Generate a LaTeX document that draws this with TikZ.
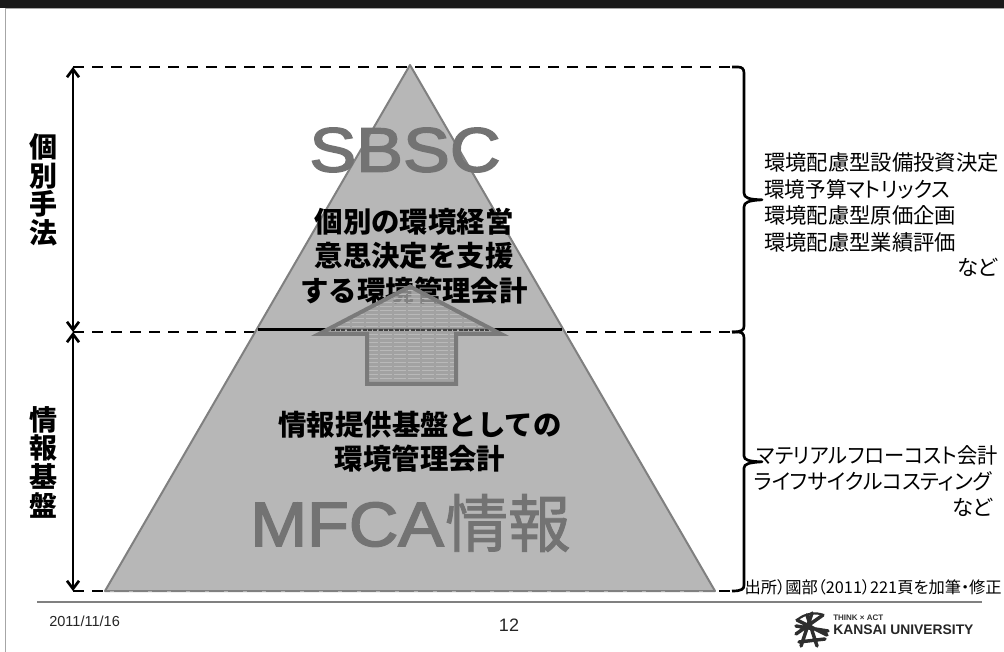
\documentclass[tikz,border=0pt]{standalone}
\usepackage{fontspec}
\setmainfont{Liberation Sans}
\newfontfamily\jp{Noto Sans CJK JP}
\newfontfamily\jpp[RawFeature=+palt]{Noto Sans CJK JP}
\newfontfamily\emb[FakeBold=2.4]{Liberation Sans}
\newfontfamily\jpemb[FakeBold=1.4]{Noto Sans CJK JP}
\usetikzlibrary{arrows.meta}
\definecolor{tri}{HTML}{B7B7B7}
\definecolor{triedge}{HTML}{808080}
\definecolor{big}{HTML}{737373}
\definecolor{arrowedge}{HTML}{7A7A7A}
\definecolor{hatch}{HTML}{9E9E9E}
\newcommand{\fs}[1]{\fontsize{#1}{#1}\selectfont}
\tikzset{
  x=0.75pt,y=-0.75pt,
  dashline/.style={line width=2.1pt,dash pattern=on 8pt off 6.25pt},
  dim/.style={line width=2pt,{Straight Barb[length=6pt,width=9pt,line width=2pt]}-{Straight Barb[length=6pt,width=9pt,line width=2pt]}},
  bracepath/.style={line width=2pt,line join=round},
  center label/.style={inner sep=0,font=\jp\bfseries\fs{21.3},align=center,text=black},
  side label/.style={inner sep=0,font=\jp\bfseries\fs{21},align=center,text=black},
  note/.style={inner sep=0,font=\jpp\fs{16},anchor=west},
  noter/.style={inner sep=0,font=\jpp\fs{16},anchor=east},
}
\begin{document}
\begin{tikzpicture}
\useasboundingbox (0,0) rectangle (1004,652);
\fill[white] (0,0) rectangle (1004,652);
\fill[black!90] (0,0) rectangle (1004,8);
\draw[gray!70,line width=0.8pt] (5.7,652) -- (5.7,8.5) -- (1004,8.5);
% guide coordinates
\coordinate (dtl) at (73,67);
\coordinate (dtr) at (732,67);
\coordinate (dml) at (73,332);
\coordinate (dmr) at (732,332);
\coordinate (dbl) at (73,591);
\coordinate (dbr) at (732,591);
\draw[dashline] (dtl) -- (dtr);
\draw[dashline] (dml) -- (dmr);
\draw[dashline] (dbl) -- (dbr);
% pyramid
\path[fill=tri,draw=triedge,line width=1.5pt,line join=round] (410,65) -- (715,591) -- (105,591) -- cycle;
\draw[black!30,line width=0.8pt,dash pattern=on 3pt off 11.25pt] (110,591.5) -- (712,591.5);
\coordinate (sl) at (258,329.5);
\coordinate (sr) at (562,329.5);
\draw[black,line width=1.6pt] (sl) -- (sr);
\draw[dim] (dtl) -- (dml);
\draw[dim] (dml) -- (dbl);
% braces
\draw[bracepath] (dtr) -- (738,67) .. controls (742,67) and (744,69) .. (744,73) -- (744,193)
   .. controls (744,198) and (749,199.5) .. (762,199.8)
   .. controls (749,200.5) and (744,202) .. (744,207) -- (744,326)
   .. controls (744,330) and (742,332) .. (dmr);
\draw[bracepath] (dmr) -- (738,332) .. controls (742,332) and (744,334) .. (744,338) -- (744,456)
   .. controls (744,460) and (749,461.5) .. (762,461.8)
   .. controls (749,462.5) and (744,464) .. (744,468) -- (744,585)
   .. controls (744,589) and (742,591) .. (dbr);
% big text
\node[inner sep=0,text=big,font=\emb\fs{47},xscale=1.12] (sbsc) at (405,150) {SBSC};
\node[inner sep=0,text=big,font=\emb\fs{47},xscale=1.09,anchor=west] (mfca) at (250,524.5) {MFCA};
\node[inner sep=0,text=big,font=\jpemb\fs{47},anchor=west] (joho) at (445,523) {情報};
% labels
\node[center label] (t1) at (414,256) {個別の環境経営\\[4.6pt]意思決定を支援\\[4.6pt]する環境管理会計};
\node[center label] (t2) at (420,442) {情報提供基盤としての\\[4.2pt]環境管理会計};
% arrow
\path[fill=hatch,fill opacity=0.82]
  (410,286.5) -- (501,334) -- (456,334) -- (456,384) -- (367,384) -- (367,334) -- (319,334) -- cycle;
\begin{scope}
\clip (410,286.5) -- (501,334) -- (456,334) -- (456,384) -- (367,384) -- (367,334) -- (319,334) -- cycle;
\foreach \y in {290,294,...,386}{\draw[white!45!gray,line width=0.7pt,dash pattern=on 9pt off 1.5pt] (310,\y) -- (510,\y);}
\draw[black!75,line width=1.2pt,dash pattern=on 3pt off 1pt] (320,330) -- (500,330);
\end{scope}
\path[draw=arrowedge,line width=3pt,miter limit=10]
  (410,286.5) -- (501,334) -- (456,334) -- (456,384) -- (367,384) -- (367,334) -- (319,334) -- cycle;
% side labels
\node[side label] (s1) at (43.5,190) {個\\[0.5pt]別\\[0.5pt]手\\[0.5pt]法};
\node[side label] (s2) at (43.5,462) {情\\[0.5pt]報\\[0.5pt]基\\[0.5pt]盤};
% right notes
\node[note] (n1) at (764,162) {環境配慮型設備投資決定};
\node[note,xscale=0.965] (n2) at (764,189) {環境予算マトリックス};
\node[note] (n3) at (764,215) {環境配慮型原価企画};
\node[note] (n4) at (764,242) {環境配慮型業績評価};
\node[noter] (n5) at (998,267) {など};
\node[noter,xscale=0.95] (n6) at (998,455) {マテリアルフローコスト会計};
\node[noter,xscale=0.975] (n7) at (992,481) {ライフサイクルコスティング};
\node[noter] (n8) at (993,507) {など};
\node[inner sep=0,anchor=east,font=\jpp\fs{12.2}] (src) at (1002,587) {出所）國部（2011）221頁を加筆・修正};
% footer
\draw[gray,line width=1.5pt] (37,602) -- (982,602);
\node[inner sep=0,anchor=west,font=\fs{10.9},text=black!85] (date) at (49,621) {2011/11/16};
\node[inner sep=0,font=\fs{13.5},text=black!85] (page) at (509,625) {12};
% logo
\begin{scope}[shift={(811,630)},line width=2.6pt,black!82,line cap=round]
\draw (-14,-10) -- (16,5) (-15,4) -- (12,-15) (-10,16) -- (1,-17) (6,16) -- (-4,-15) (-15,-4) -- (17,1) (-12,12) -- (14,9);
\draw[line width=1.6pt] (-14,-10) .. controls (-6,-17) and (6,-18) .. (12,-15);
\end{scope}
\node[inner sep=0,anchor=west,font=\bfseries\fs{6},text=black!80] (think) at (833,618) {THINK × ACT};
\node[inner sep=0,anchor=west,font=\bfseries\fs{10.4},text=black!85] (ku) at (833,630) {KANSAI UNIVERSITY};
\end{tikzpicture}
\end{document}
